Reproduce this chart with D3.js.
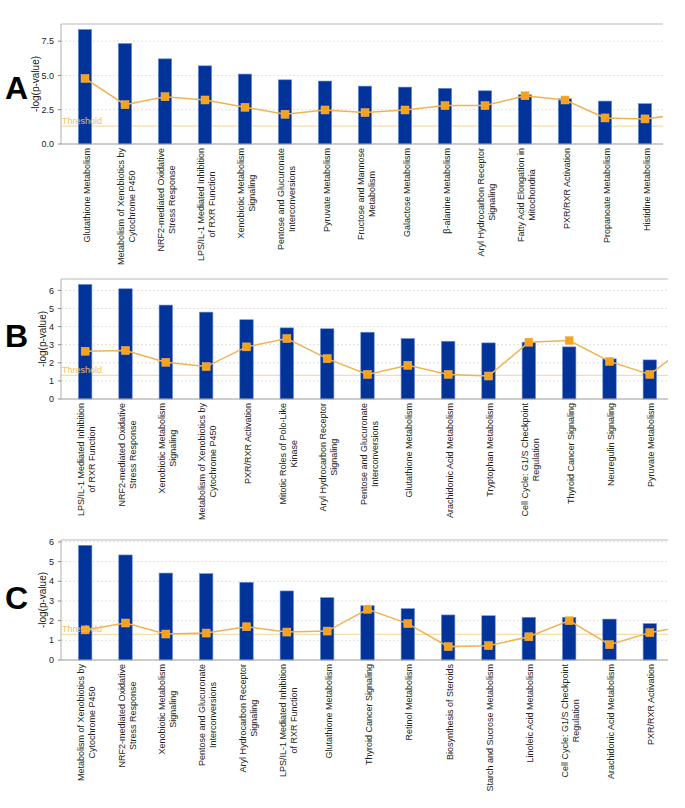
<!DOCTYPE html>
<html>
<head>
<meta charset="utf-8">
<script src="https://cdn.jsdelivr.net/npm/d3@7"></script>
<style>
  body { margin: 0; background: #fff; }
  svg { display: block; font-family: "Liberation Sans", Arial, sans-serif; }
</style>
</head>
<body>
<div id="chart"></div>
<script>
// ---------- data ----------
const catsA = ["Glutathione Metabolism", "Metabolism of Xenobiotics by\nCytochrome P450",
  "NRF2-mediated Oxidative\nStress Response", "LPS/IL-1 Mediated Inhibition\nof RXR Function",
  "Xenobiotic Metabolism\nSignaling", "Pentose and Glucuronate\nInterconversions",
  "Pyruvate Metabolism", "Fructose and Mannose\nMetabolism", "Galactose Metabolism",
  "β-alanine Metabolism", "Aryl Hydrocarbon Receptor\nSignaling",
  "Fatty Acid Elongation in\nMitochondria", "PXR/RXR Activation",
  "Propanoate Metabolism", "Histidine Metabolism"];
const barsA  = [8.35, 7.33, 6.21, 5.70, 5.10, 4.68, 4.59, 4.22, 4.15, 4.06, 3.88, 3.59, 3.30, 3.13, 2.94];
const ratioA = [4.78, 2.87, 3.45, 3.21, 2.68, 2.17, 2.48, 2.29, 2.48, 2.80, 2.80, 3.52, 3.21, 1.90, 1.83];
const nextRatioA = 2.2;   // next (off-chart) category, only its segment shows
const ticksA = [0, 2.5, 5, 7.5];

const catsB = ["LPS/IL-1 Mediated Inhibition\nof RXR Function", "NRF2-mediated Oxidative\nStress Response",
  "Xenobiotic Metabolism\nSignaling", "Metabolism of Xenobiotics by\nCytochrome P450",
  "PXR/RXR Activation", "Mitotic Roles of Polo-Like\nKinase", "Aryl Hydrocarbon Receptor\nSignaling",
  "Pentose and Glucuronate\nInterconversions", "Glutathione Metabolism",
  "Arachidonic Acid Metabolism", "Tryptophan Metabolism",
  "Cell Cycle: G1/S Checkpoint\nRegulation", "Thyroid Cancer Signaling",
  "Neuregulin Signaling", "Pyruvate Metabolism"];
const barsB  = [6.33, 6.09, 5.19, 4.80, 4.38, 3.93, 3.88, 3.69, 3.34, 3.19, 3.10, 3.14, 2.88, 2.22, 2.16];
const ratioB = [2.64, 2.68, 2.03, 1.79, 2.88, 3.34, 2.23, 1.36, 1.86, 1.36, 1.27, 3.14, 3.23, 2.08, 1.36];
const nextRatioB = 3.05;
const ticksB = [0, 1, 2, 3, 4, 5, 6];

const catsC = ["Metabolism of Xenobiotics by\nCytochrome P450", "NRF2-mediated Oxidative\nStress Response",
  "Xenobiotic Metabolism\nSignaling", "Pentose and Glucuronate\nInterconversions",
  "Aryl Hydrocarbon Receptor\nSignaling", "LPS/IL-1 Mediated Inhibition\nof RXR Function",
  "Glutathione Metabolism", "Thyroid Cancer Signaling", "Retinol Metabolism",
  "Biosynthesis of Steroids", "Starch and Sucrose Metabolism", "Linoleic Acid Metabolism",
  "Cell Cycle: G1/S Checkpoint\nRegulation", "Arachidonic Acid Metabolism", "PXR/RXR Activation"];
const barsC  = [5.83, 5.34, 4.42, 4.39, 3.95, 3.51, 3.17, 2.76, 2.61, 2.29, 2.25, 2.17, 2.17, 2.08, 1.85];
const ratioC = [1.53, 1.88, 1.32, 1.37, 1.69, 1.42, 1.47, 2.58, 1.85, 0.68, 0.73, 1.18, 2.00, 0.78, 1.39];
const nextRatioC = 1.77;
const ticksC = [0, 1, 2, 3, 4, 5, 6];

const threshold = 1.3;

// ---------- layout ----------
const W = 685, H = 808;
const svg = d3.select("#chart").append("svg").attr("width", W).attr("height", H);

const panels = [
  {id: "A", cats: catsA, bars: barsA, ratio: ratioA, next: nextRatioA, ticks: ticksA, fmt: d3.format(".1f"),
   top: 24, bottom: 144, right: 663, yMax: 8.75, titleX: 35, letterY: 99},
  {id: "B", cats: catsB, bars: barsB, ratio: ratioB, next: nextRatioB, ticks: ticksB, fmt: d3.format("d"),
   top: 279, bottom: 399, right: 668, yMax: 6.63, titleX: 42, letterY: 347},
  {id: "C", cats: catsC, bars: barsC, ratio: ratioC, next: nextRatioC, ticks: ticksC, fmt: d3.format("d"),
   top: 540, bottom: 660, right: 668, yMax: 6.1, titleX: 42, letterY: 609}
];

const left = 61;

panels.forEach(p => {
  const g = svg.append("g");

  const x = d3.scaleBand().domain(p.cats).range([65, p.right + 2]);
  const y = d3.scaleLinear().domain([0, p.yMax]).range([p.bottom, p.top]);
  const bw = x.step() / 3;

  // clip for the ratio line
  g.append("clipPath").attr("id", "clip" + p.id)
    .append("rect").attr("x", left).attr("y", p.top).attr("width", p.right - left).attr("height", p.bottom - p.top);

  // grid
  g.selectAll(".grid").data(p.ticks.filter(t => t > 0)).enter().append("line")
    .attr("x1", left).attr("x2", p.right)
    .attr("y1", d => y(d)).attr("y2", d => y(d))
    .attr("stroke", "#d8d8d8").attr("stroke-width", 0.8).attr("stroke-dasharray", "2,2");

  // frame top
  g.append("line").attr("x1", left).attr("x2", p.right).attr("y1", p.top).attr("y2", p.top)
    .attr("stroke", "#d0d0d0").attr("stroke-width", 1.5);

  // threshold
  g.append("line").attr("x1", left).attr("x2", p.right)
    .attr("y1", y(threshold)).attr("y2", y(threshold))
    .attr("stroke", "#f6dca8").attr("stroke-width", 1.2);

  // bars
  g.selectAll(".bar").data(p.bars).enter().append("rect")
    .attr("x", (d, i) => x(p.cats[i]) + x.bandwidth() / 2 - bw / 2)
    .attr("width", bw)
    .attr("y", d => y(d))
    .attr("height", d => y(0) - y(d))
    .attr("fill", "#013398").attr("stroke", "#6d8fd6").attr("stroke-width", 0.6);

  // ratio line
  const pts = p.ratio.map((v, i) => [x(p.cats[i]) + x.bandwidth() / 2, y(v)]);
  pts.push([pts[pts.length - 1][0] + x.step(), y(p.next)]);
  g.append("path").attr("clip-path", "url(#clip" + p.id + ")")
    .attr("d", d3.line()(pts))
    .attr("fill", "none").attr("stroke", "#f1b352").attr("stroke-width", 1.5);

  g.selectAll(".sq").data(p.ratio).enter().append("rect")
    .attr("x", (d, i) => x(p.cats[i]) + x.bandwidth() / 2 - 4)
    .attr("y", d => y(d) - 4)
    .attr("width", 8).attr("height", 8)
    .attr("fill", "#f7a21e").attr("stroke", "#f0b75a").attr("stroke-width", 0.5);

  g.append("text").attr("x", left + 1).attr("y", y(threshold) - 2.5)
    .attr("font-size", 9).attr("fill", "#efc062").text("Threshold");

  // axes lines
  g.append("line").attr("x1", left).attr("x2", p.right).attr("y1", p.bottom).attr("y2", p.bottom)
    .attr("stroke", "#9a9a9a").attr("stroke-width", 1);
  g.append("line").attr("x1", left).attr("x2", left).attr("y1", p.top).attr("y2", p.bottom)
    .attr("stroke", "#b0b0b0").attr("stroke-width", 1);

  // y ticks
  const yt = g.selectAll(".yt").data(p.ticks).enter().append("g");
  yt.append("line").attr("x1", left - 3).attr("x2", left)
    .attr("y1", d => y(d)).attr("y2", d => y(d)).attr("stroke", "#888");
  yt.append("text").attr("x", left - 7).attr("y", d => y(d)).attr("dy", "0.35em")
    .attr("text-anchor", "end").attr("font-size", 9).attr("fill", "#222")
    .text(d => p.fmt(d));

  // y title
  g.append("text")
    .attr("transform", `translate(${p.titleX},${(p.top + p.bottom) / 2}) rotate(-90)`)
    .attr("text-anchor", "middle").attr("dy", "0.35em")
    .attr("font-size", 10).attr("fill", "#222").text("-log(p-value)");

  // category labels
  p.cats.forEach(c => {
    const lines = c.split("\n");
    const t = g.append("text").attr("font-size", 9).attr("fill", "#222").attr("text-anchor", "middle");
    const spans = lines.map((l, i) => t.append("tspan").text(l)
      .attr("x", 0).attr("y", (i - (lines.length - 1) / 2) * 11 + 1.5).attr("dy", "0.35em"));
    const maxW = d3.max(spans, s => s.node().getComputedTextLength());
    const cx = x(c) + x.bandwidth() / 2;
    t.attr("transform", `translate(${cx},${p.bottom + 4 + maxW / 2}) rotate(-90)`);
  });

  // panel letter
  g.append("text").attr("x", 5).attr("y", p.letterY)
    .attr("font-size", 32).attr("font-weight", "bold").attr("fill", "#000").text(p.id);
});
</script>
</body>
</html>
